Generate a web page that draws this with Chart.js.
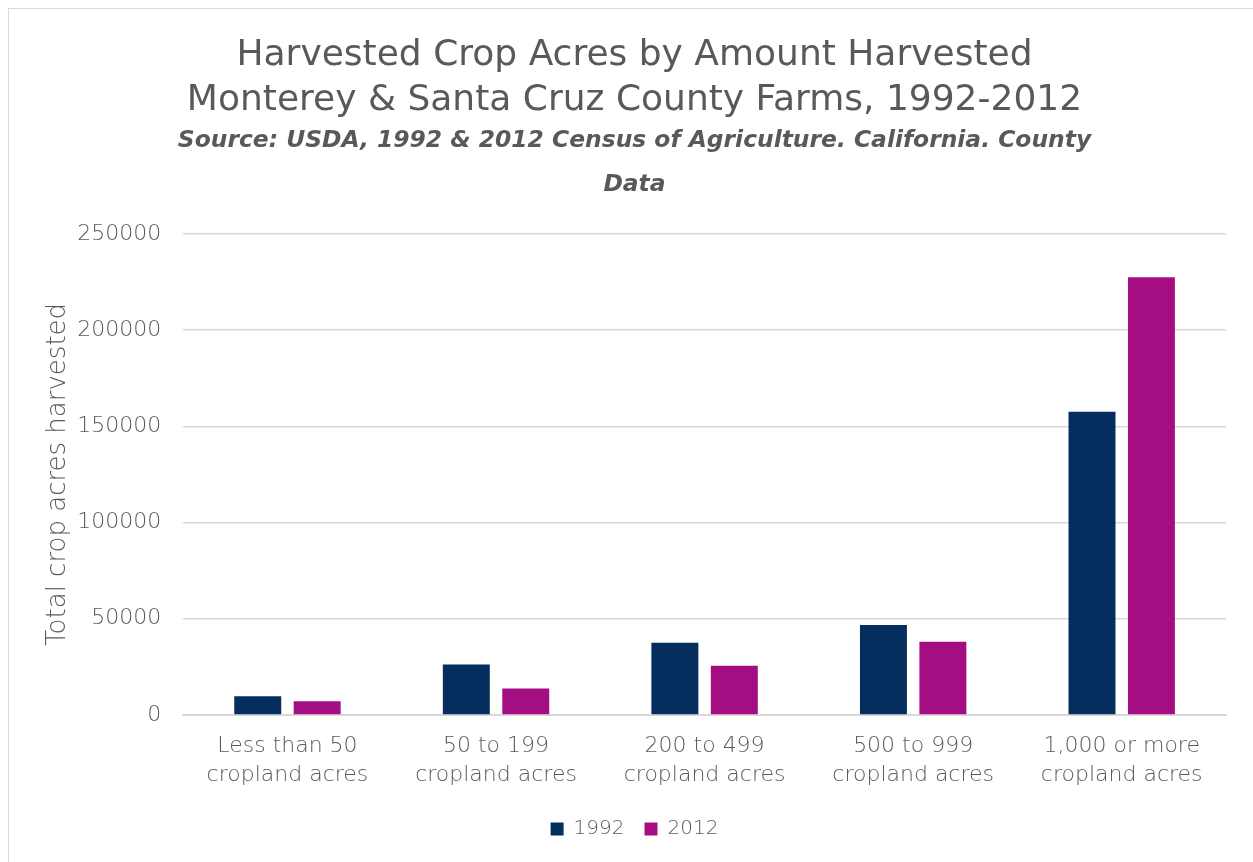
<!DOCTYPE html>
<html>
<head>
<meta charset="utf-8">
<script src="https://cdn.jsdelivr.net/npm/chart.js@4"></script>
<style>
  html, body { margin: 0; padding: 0; background: #fff; }
  #wrap {
    position: absolute; left: 8px; top: 8px; width: 1260px; height: 860px;
    border: 1px solid #d9d9d9; box-sizing: border-box;
  }
  #chart { position: absolute; left: 0; top: 0; }
</style>
</head>
<body>
<div id="wrap"><canvas id="chart" width="1245" height="854"></canvas></div>
<script>
// chart data
const categories = [
  ["Less than 50", "cropland acres"],
  ["50 to 199", "cropland acres"],
  ["200 to 499", "cropland acres"],
  ["500 to 999", "cropland acres"],
  ["1,000 or more", "cropland acres"]
];
const years = ["1992", "2012"];
const acres1992 = [9700, 26200, 37500, 46700, 157600];
const acres2012 = [7100, 13700, 25500, 38000, 227500];
const yTicks = [0, 50000, 100000, 150000, 200000, 250000];

const grey = "#595959";
const axisFont = "'DejaVu Sans', sans-serif";

document.addEventListener("DOMContentLoaded", function () {
  const ctx = document.getElementById("chart").getContext("2d");

  new Chart(ctx, {
    type: "bar",
    data: {
      labels: categories,
      datasets: [
        { label: years[0], data: acres1992, backgroundColor: "#052e5f" },
        { label: years[1], data: acres2012, backgroundColor: "#a50e82" }
      ]
    },
    options: {
      responsive: false,
      animation: false,
      layout: { padding: { left: 34, right: 28, top: 24, bottom: 14 } },
      datasets: {
        bar: { categoryPercentage: 0.57, barPercentage: 0.79 }
      },
      plugins: {
        title: {
          display: true,
          text: ["Harvested Crop Acres by Amount Harvested", "Monterey & Santa Cruz County Farms, 1992-2012"],
          color: grey,
          font: { family: "'DejaVu Sans', sans-serif", size: 36, weight: "normal", lineHeight: 1.25 },
          padding: { top: 0, bottom: 0 }
        },
        subtitle: {
          display: true,
          text: ["Source: USDA, 1992 & 2012 Census of Agriculture. California. County", "Data"],
          color: grey,
          font: { family: "'DejaVu Sans', sans-serif", size: 23.4, weight: "bold", style: "italic", lineHeight: 1.92 },
          padding: { top: -5, bottom: 26 }
        },
        legend: {
          position: "bottom",
          labels: {
            color: grey,
            boxWidth: 13,
            boxHeight: 13,
            padding: 20,
            font: { family: axisFont, size: 20, weight: 200 }
          }
        },
        tooltip: { enabled: false }
      },
      scales: {
        x: {
          grid: { display: false },
          border: { color: "#d9d9d9", width: 2 },
          ticks: {
            color: grey,
            maxRotation: 0,
            padding: 9,
            font: { family: axisFont, size: 22, weight: 200, lineHeight: 1.32 }
          }
        },
        y: {
          min: 0,
          max: yTicks[yTicks.length - 1],
          afterBuildTicks: function (axis) {
            axis.ticks = yTicks.map(v => ({ value: v }));
          },
          grid: { color: "#d9d9d9", lineWidth: 1.5, drawTicks: false },
          border: { display: false },
          title: {
            display: true,
            text: "Total crop acres harvested",
            color: grey,
            font: { family: axisFont, size: 26, weight: 200 },
            padding: { top: 0, bottom: -19 }
          },
          ticks: {
            color: grey,
            padding: 22,
            font: { family: axisFont, size: 22, weight: 200 },
            callback: function (value) { return String(value); }
          }
        }
      }
    }
  });
});
</script>
</body>
</html>
